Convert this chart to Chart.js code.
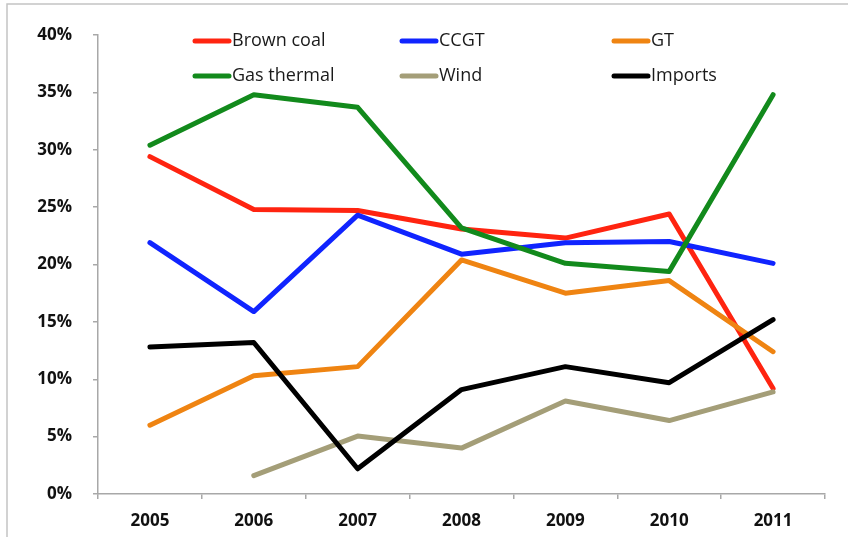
<!DOCTYPE html>
<html>
<head>
<meta charset="utf-8">
<script src="https://cdn.jsdelivr.net/npm/chart.js@4/dist/chart.umd.min.js"></script>
<style>
  html, body { margin: 0; padding: 0; background: #ffffff; }
  #wrap { position: relative; width: 848px; height: 537px; overflow: hidden; }
  canvas { position: absolute; left: 0; top: 0; }
</style>
</head>
<body>
<div id="wrap"><canvas id="chart" width="848" height="537"></canvas></div>
<script>
// Share of generation by source, 2005-2011
const years = ['2005', '2006', '2007', '2008', '2009', '2010', '2011'];
const seriesNames = ['Brown coal', 'CCGT', 'GT', 'Gas thermal', 'Wind', 'Imports'];
const brownCoal  = [29.4, 24.8, 24.7, 23.1, 22.3, 24.4, 9.2];
const ccgt       = [21.9, 15.9, 24.3, 20.9, 21.9, 22.0, 20.1];
const gt         = [6.0, 10.3, 11.1, 20.4, 17.5, 18.6, 12.4];
const gasThermal = [30.4, 34.8, 33.7, 23.2, 20.1, 19.4, 34.8];
const wind       = [null, 1.6, 5.05, 4.0, 8.1, 6.4, 8.9];
const imports    = [12.8, 13.2, 2.2, 9.1, 11.1, 9.7, 15.2];
const yTicks     = [0, 5, 10, 15, 20, 25, 30, 35, 40];

const seriesValues = [brownCoal, ccgt, gt, gasThermal, wind, imports];
const seriesColors = ['#ff2410', '#1024ff', '#ef8412', '#128a1c', '#a49e78', '#000000'];

const axisGray = '#a8a8a8';
const tickFont = { family: '"Open Sans", sans-serif', size: 17, weight: 'bold' };

// Outer frame of the chart object
const framePlugin = {
  id: 'frame',
  beforeDraw(chart) {
    const ctx = chart.ctx;
    ctx.save();
    ctx.strokeStyle = '#c4c4c4';
    ctx.lineWidth = 1.5;
    ctx.strokeRect(7, 4, 1000, 1000);
    ctx.restore();
  }
};

// Two-row legend laid over the top of the plot
const legendPlugin = {
  id: 'innerLegend',
  afterDatasetsDraw(chart) {
    const ctx = chart.ctx;
    const colX = [193, 400, 612];
    const rowY = [41, 76];
    ctx.save();
    ctx.font = '18px "Open Sans", sans-serif';
    ctx.textBaseline = 'middle';
    ctx.fillStyle = '#1a1a1a';
    chart.data.datasets.forEach((ds, i) => {
      const x = colX[i % 3];
      const y = rowY[Math.floor(i / 3)];
      ctx.strokeStyle = ds.borderColor;
      ctx.lineWidth = 5;
      ctx.lineCap = 'round';
      ctx.beginPath();
      ctx.moveTo(x + 2, y);
      ctx.lineTo(x + 36, y);
      ctx.stroke();
      ctx.fillText(ds.label, x + 39, y);
    });
    ctx.restore();
  }
};

new Chart(document.getElementById('chart'), {
  type: 'line',
  data: {
    labels: years,
    datasets: seriesNames.map((name, i) => ({
      label: name,
      data: seriesValues[i],
      borderColor: seriesColors[i],
      backgroundColor: seriesColors[i],
      borderWidth: 5,
      pointRadius: 0,
      pointHoverRadius: 0,
      tension: 0,
      borderJoinStyle: 'round',
      borderCapStyle: 'round',
      fill: false,
      order: seriesNames.length - i
    }))
  },
  options: {
    responsive: false,
    animation: false,
    events: [],
    layout: { padding: { top: 35, right: 23, left: 0, bottom: 0 } },
    plugins: {
      legend: { display: false },
      tooltip: { enabled: false }
    },
    scales: {
      x: {
        type: 'category',
        offset: true,
        grid: {
          offset: true,
          drawOnChartArea: false,
          drawTicks: true,
          tickLength: 5,
          color: axisGray,
          lineWidth: 1.5
        },
        border: { display: true, color: axisGray, width: 1.5 },
        ticks: { font: tickFont, color: '#111111', padding: 12, maxRotation: 0 },
        afterFit(scale) { scale.height = 43; }
      },
      y: {
        min: 0,
        max: 40,
        afterBuildTicks(scale) { scale.ticks = yTicks.map(v => ({ value: v })); },
        grid: {
          drawOnChartArea: false,
          drawTicks: true,
          tickLength: 5,
          color: axisGray,
          lineWidth: 1.5
        },
        border: { display: true, color: axisGray, width: 1.5 },
        ticks: {
          font: tickFont,
          color: '#111111',
          padding: 21,
          callback: v => v + '%'
        },
        afterFit(scale) { scale.width = 98; }
      }
    }
  },
  plugins: [framePlugin, legendPlugin]
});
</script>
</body>
</html>
